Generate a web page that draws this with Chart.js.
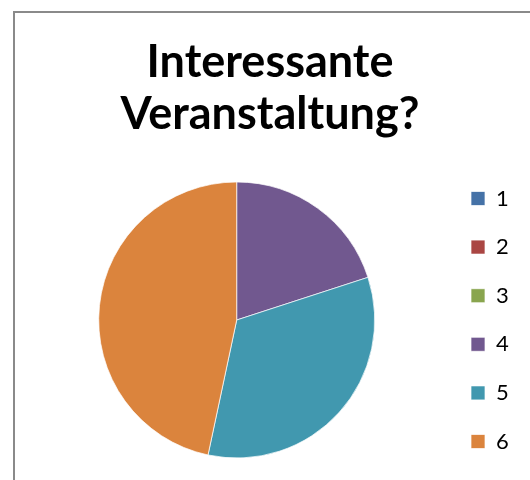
<!DOCTYPE html>
<html>
<head>
<meta charset="utf-8">
<script src="https://cdn.jsdelivr.net/npm/chart.js@4"></script>
<style>
  body { margin: 0; background: #fff; }
  canvas { display: block; }
</style>
</head>
<body>
<canvas id="chart" width="530" height="480"></canvas>
<script>
// Antworten auf die Frage (Skala 1-6)
const kategorien = ['1', '2', '3', '4', '5', '6'];
const anzahl = [0, 0, 0, 3, 5, 7];
const farben = ['#4572A7', '#AA4643', '#89A54E', '#71588F', '#4198AF', '#DB843D'];
const titel = ['Interessante', 'Veranstaltung?'];

// Rahmen links und oben wie im Original
const rahmen = {
    id: 'rahmen',
    beforeDraw(chart) {
        const ctx = chart.ctx;
        ctx.save();
        ctx.strokeStyle = '#8a8a8a';
        ctx.lineWidth = 2;
        ctx.beginPath();
        ctx.moveTo(14, 480);
        ctx.lineTo(14, 12);
        ctx.lineTo(530, 12);
        ctx.stroke();
        ctx.restore();
    }
};

new Chart(document.getElementById('chart'), {
    type: 'pie',
    data: {
        labels: kategorien,
        datasets: [{
            data: anzahl,
            backgroundColor: farben,
            borderColor: 'rgba(255,255,255,0.7)',
            borderWidth: 1,
            radius: 138
        }]
    },
    options: {
        responsive: false,
        animation: false,
        layout: { padding: { left: 29, right: 19, top: 0, bottom: 0 } },
        plugins: {
            title: {
                display: true,
                text: titel,
                color: '#000',
                font: { family: 'Lato', size: 45, weight: 'bold', lineHeight: 1.17 },
                padding: { top: 35.7, bottom: 19 }
            },
            legend: {
                position: 'right',
                fullSize: false,
                maxWidth: 66.6,
                labels: {
                    color: '#000',
                    font: { family: 'Lato', size: 22 },
                    boxWidth: 14,
                    boxHeight: 14,
                    padding: 26.6
                }
            },
            tooltip: { enabled: false }
        }
    },
    plugins: [rahmen]
});
</script>
</body>
</html>
